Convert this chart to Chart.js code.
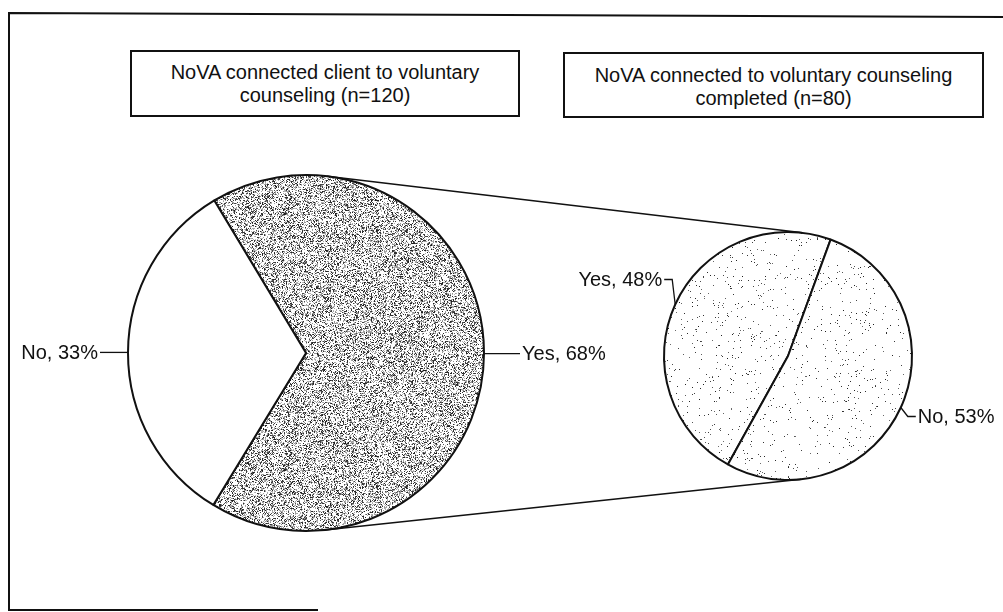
<!DOCTYPE html>
<html>
<head>
<meta charset="utf-8">
<script src="https://cdn.jsdelivr.net/npm/chart.js@4.4.1/dist/chart.umd.min.js"></script>
<style>
  html, body { margin: 0; padding: 0; background: #fff; }
  #stage { position: relative; width: 1003px; height: 612px; overflow: hidden; background: #fff;
           font-family: 'Liberation Sans', Arial, sans-serif; }
  #stage canvas { position: absolute; left: 0; top: 0; }
  .box { position: absolute; box-sizing: border-box; border: 2px solid #111; background: #fff;
         text-align: center; font-size: 20px; line-height: 23px; color: #111; white-space: nowrap; }
</style>
</head>
<body>
<div id="stage">
  <canvas id="primary" width="1003" height="612"></canvas>
  <canvas id="secondary" width="1003" height="612"></canvas>
  <div class="box" id="primaryBox" style="left:130px;top:50px;width:390px;height:67px;padding-top:9px;"></div>
  <div class="box" id="secondaryBox" style="left:563px;top:52px;width:421px;height:66px;padding-top:10px;"></div>
</div>
<script>
// Chart content
const primaryTitle = ['NoVA connected client to voluntary', 'counseling (n=120)'];
const secondaryTitle = ['NoVA connected to voluntary counseling', 'completed (n=80)'];
const primaryCategories = ['Yes', 'No'];
const primaryValues = [68, 33];
const secondaryCategories = ['Yes', 'No'];
const secondaryValues = [48, 53];

const FONT = "20px 'Liberation Sans', Arial, sans-serif";
const INK = '#111';

// Boxed titles as text lines
function fillBox(id, lines) {
  const el = document.getElementById(id);
  lines.forEach((t, i) => {
    if (i) el.appendChild(document.createElement('br'));
    el.appendChild(document.createTextNode(t));
  });
}
fillBox('primaryBox', primaryTitle);
fillBox('secondaryBox', secondaryTitle);

// Deterministic speckle textures for the slice fills
function speckle(size, seed, fn) {
  const c = document.createElement('canvas');
  c.width = c.height = size;
  const g = c.getContext('2d');
  const img = g.createImageData(size, size);
  let s = seed >>> 0;
  const rnd = () => { s = (Math.imul(s, 1664525) + 1013904223) >>> 0; return s / 4294967296; };
  for (let i = 0; i < size * size; i++) {
    const v = fn(rnd);
    img.data[i * 4] = img.data[i * 4 + 1] = img.data[i * 4 + 2] = v;
    img.data[i * 4 + 3] = 255;
  }
  g.putImageData(img, 0, 0);
  return g.createPattern(c, 'repeat');
}
const denseGrey = speckle(256, 12345, r => {
  const u = r();
  if (u < 0.20) return 25 + r() * 60;
  if (u < 0.45) return 140 + r() * 50;
  return 255;
});
const sparseDotsA = speckle(256, 777, r => (r() < 0.022 ? 30 + r() * 80 : 255));
const sparseDotsB = speckle(256, 4242, r => (r() < 0.018 ? 30 + r() * 80 : 255));

// Category labels with leader lines anchored at each slice's middle
const sliceLabels = {
  id: 'sliceLabels',
  afterDatasetsDraw(chart, args, opts) {
    const ctx = chart.ctx;
    const meta = chart.getDatasetMeta(0);
    const cats = chart.data.labels;
    const vals = chart.data.datasets[0].data;
    ctx.save();
    ctx.strokeStyle = INK;
    ctx.lineWidth = 1.3;
    ctx.fillStyle = INK;
    ctx.font = FONT;
    ctx.textBaseline = 'middle';
    meta.data.forEach((arc, i) => {
      const p = arc.getProps(['x', 'y', 'startAngle', 'endAngle', 'outerRadius'], true);
      const mid = (p.startAngle + p.endAngle) / 2;
      const ex = p.x + Math.cos(mid) * p.outerRadius;
      const ey = p.y + Math.sin(mid) * p.outerRadius;
      const leader = opts.leaders[i];
      let px = ex, py = ey;
      ctx.beginPath();
      ctx.moveTo(ex, ey);
      leader.forEach(([dx, dy]) => { px = ex + dx; py = ey + dy; ctx.lineTo(px, py); });
      ctx.stroke();
      const side = opts.sides[i];
      ctx.textAlign = side === 'left' ? 'right' : 'left';
      ctx.fillText(cats[i] + ', ' + vals[i] + '%', side === 'left' ? px - 2 : px + 2, py + 1);
    });
    ctx.restore();
  }
};

let primaryChart = null;

// Outer frame and the tangent connectors between the two pies
const connectors = {
  id: 'connectors',
  afterDraw(chart) {
    const ctx = chart.ctx;
    ctx.save();
    ctx.strokeStyle = INK;
    ctx.lineWidth = 2;
    ctx.beginPath();
    ctx.moveTo(9, 611); ctx.lineTo(9, 13); ctx.lineTo(1003, 17);
    ctx.moveTo(9, 610); ctx.lineTo(318, 610);
    ctx.stroke();
    if (primaryChart) {
      const a = primaryChart.getDatasetMeta(0).data[0];
      const b = chart.getDatasetMeta(0).data[0];
      const r1 = a.outerRadius, r2 = b.outerRadius;
      const dx = b.x - a.x, dy = b.y - a.y, D = Math.hypot(dx, dy);
      const base = Math.atan2(dy, dx), phi = Math.acos((r1 - r2) / D);
      ctx.lineWidth = 1.5;
      [-1, 1].forEach(sg => {
        const t = base + sg * phi, nx = Math.cos(t), ny = Math.sin(t);
        ctx.beginPath();
        ctx.moveTo(a.x + r1 * nx, a.y + r1 * ny);
        ctx.lineTo(b.x + r2 * nx, b.y + r2 * ny);
        ctx.stroke();
      });
    }
    ctx.restore();
  }
};

function pieConfig(categories, values, fills, radius, rotation, padding, labelOpts, extraPlugins) {
  return {
    type: 'pie',
    data: {
      labels: categories,
      datasets: [{
        data: values,
        backgroundColor: fills,
        borderColor: INK,
        borderWidth: 2
      }]
    },
    options: {
      responsive: false,
      animation: false,
      events: [],
      rotation: rotation,
      radius: radius,
      layout: { padding: padding },
      plugins: {
        legend: { display: false },
        tooltip: { enabled: false },
        title: { display: false },
        sliceLabels: labelOpts
      }
    },
    plugins: [sliceLabels].concat(extraPlugins)
  };
}

primaryChart = new Chart(document.getElementById('primary'), pieConfig(
  primaryCategories, primaryValues, [denseGrey, '#ffffff'], 178, -31,
  { left: 106, top: 153, right: 497, bottom: 59 },
  { leaders: [[[36, 0]], [[-28, 0]]], sides: ['right', 'left'] },
  []
));

new Chart(document.getElementById('secondary'), pieConfig(
  secondaryCategories, secondaryValues, [sparseDotsA, sparseDotsB], 124, -151,
  { left: 638, top: 206, right: 65, bottom: 106 },
  { leaders: [[[-3, -25], [-11, -25]], [[7, 9], [15, 9]]], sides: ['left', 'right'] },
  [connectors]
));
</script>
</body>
</html>
